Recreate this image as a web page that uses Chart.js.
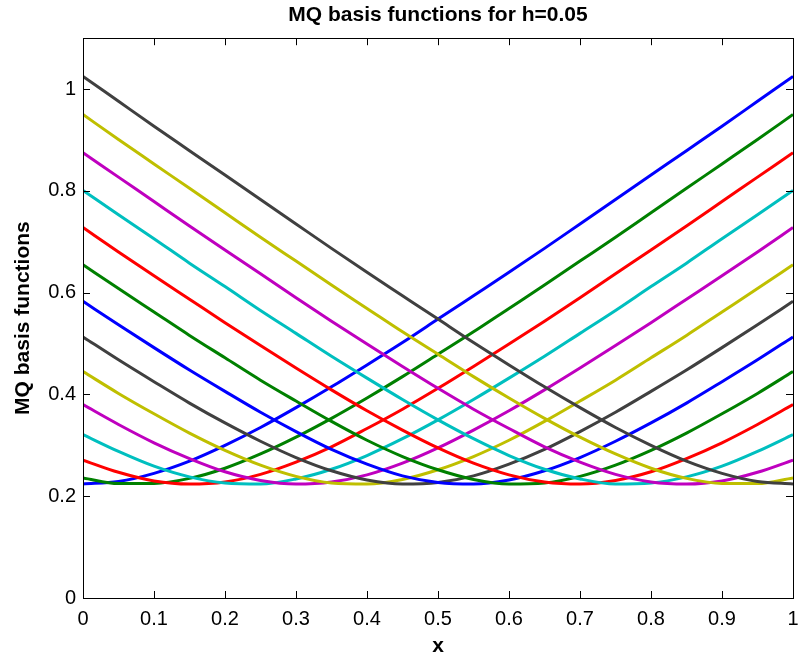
<!DOCTYPE html>
<html>
<head>
<meta charset="utf-8">
<script src="https://cdn.jsdelivr.net/npm/chart.js@4/dist/chart.umd.min.js"></script>
<style>
  body { margin: 0; background: #fff; }
  canvas { display: block; }
</style>
</head>
<body>
<canvas id="mq" width="799" height="662"></canvas>
<script>
// sample points along x
const xs = [0, 0.05, 0.1, 0.15, 0.2, 0.25, 0.3, 0.35, 0.4, 0.45, 0.5,
            0.55, 0.6, 0.65, 0.7, 0.75, 0.8, 0.85, 0.9, 0.95, 1];

// one curve per centre
const phi01 = [0.224,0.229,0.245,0.269,0.300,0.335,0.374,0.415,0.458,0.502,0.548,0.594,0.640,0.687,0.735,0.783,0.831,0.879,0.927,0.976,1.025];
const phi02 = [0.236,0.225,0.225,0.235,0.255,0.283,0.316,0.353,0.393,0.435,0.479,0.523,0.569,0.615,0.662,0.709,0.757,0.805,0.853,0.901,0.950];
const phi03 = [0.271,0.247,0.230,0.224,0.228,0.243,0.267,0.297,0.333,0.371,0.412,0.455,0.499,0.544,0.590,0.637,0.684,0.731,0.779,0.827,0.875];
const phi04 = [0.321,0.288,0.259,0.238,0.226,0.224,0.234,0.253,0.280,0.313,0.350,0.390,0.432,0.475,0.520,0.565,0.612,0.658,0.706,0.753,0.801];
const phi05 = [0.380,0.341,0.305,0.274,0.248,0.231,0.224,0.228,0.242,0.265,0.295,0.330,0.368,0.409,0.452,0.496,0.541,0.587,0.633,0.680,0.728];
const phi06 = [0.445,0.402,0.362,0.324,0.290,0.261,0.239,0.226,0.224,0.233,0.252,0.278,0.310,0.347,0.387,0.428,0.472,0.516,0.562,0.608,0.655];
const phi07 = [0.513,0.468,0.425,0.383,0.344,0.308,0.276,0.250,0.232,0.224,0.227,0.240,0.263,0.292,0.327,0.365,0.406,0.448,0.492,0.537,0.583];
const phi08 = [0.583,0.537,0.492,0.448,0.406,0.365,0.327,0.292,0.263,0.240,0.227,0.224,0.232,0.250,0.276,0.308,0.344,0.383,0.425,0.468,0.513];
const phi09 = [0.655,0.608,0.562,0.516,0.472,0.428,0.387,0.347,0.310,0.278,0.252,0.233,0.224,0.226,0.239,0.261,0.290,0.324,0.362,0.402,0.445];
const phi10 = [0.728,0.680,0.633,0.587,0.541,0.496,0.452,0.409,0.368,0.330,0.295,0.265,0.242,0.228,0.224,0.231,0.248,0.274,0.305,0.341,0.380];
const phi11 = [0.801,0.753,0.706,0.658,0.612,0.565,0.520,0.475,0.432,0.390,0.350,0.313,0.280,0.253,0.234,0.224,0.226,0.238,0.259,0.288,0.321];
const phi12 = [0.875,0.827,0.779,0.731,0.684,0.637,0.590,0.544,0.499,0.455,0.412,0.371,0.333,0.297,0.267,0.243,0.228,0.224,0.230,0.247,0.271];
const phi13 = [0.950,0.901,0.853,0.805,0.757,0.709,0.662,0.615,0.569,0.523,0.479,0.435,0.393,0.353,0.316,0.283,0.255,0.235,0.225,0.225,0.236];
const phi14 = [1.025,0.976,0.927,0.879,0.831,0.783,0.735,0.687,0.640,0.594,0.548,0.502,0.458,0.415,0.374,0.335,0.300,0.269,0.245,0.229,0.224];

// matlab colour order
const lineColors = ['#0000ff', '#008000', '#ff0000', '#00bfbf', '#bf00bf', '#bfbf00', '#404040'];

const xTicks = [0, 0.1, 0.2, 0.3, 0.4, 0.5, 0.6, 0.7, 0.8, 0.9, 1];
const yTicks = [0, 0.2, 0.4, 0.6, 0.8, 1];

const curves = [phi01, phi02, phi03, phi04, phi05, phi06, phi07,
                phi08, phi09, phi10, phi11, phi12, phi13, phi14];

const datasets = curves.map((ys, i) => ({
    data: ys.map((y, k) => ({ x: xs[k], y: y })),
    borderColor: lineColors[i % lineColors.length],
    borderWidth: 3,
    pointRadius: 0,
    fill: false,
    cubicInterpolationMode: 'monotone',
    order: curves.length - i   // later lines on top, like matlab
}));

// box round the axes with inward ticks on all four sides
const boxPlugin = {
    id: 'box',
    afterDraw(chart) {
        const ctx = chart.ctx;
        const a = chart.chartArea;
        const sx = chart.scales.x, sy = chart.scales.y;
        const tl = 7;
        ctx.save();
        ctx.strokeStyle = '#000';
        ctx.lineWidth = 1;
        ctx.strokeRect(Math.round(a.left) + 0.5, Math.round(a.top) + 0.5,
                       Math.round(a.right - a.left), Math.round(a.bottom - a.top));
        ctx.beginPath();
        xTicks.forEach(v => {
            const px = Math.round(sx.getPixelForValue(v)) + 0.5;
            ctx.moveTo(px, a.bottom); ctx.lineTo(px, a.bottom - tl);
            ctx.moveTo(px, a.top); ctx.lineTo(px, a.top + tl);
        });
        yTicks.forEach(v => {
            const py = Math.round(sy.getPixelForValue(v)) + 0.5;
            ctx.moveTo(a.left, py); ctx.lineTo(a.left + tl, py);
            ctx.moveTo(a.right, py); ctx.lineTo(a.right - tl, py);
        });
        ctx.stroke();
        ctx.restore();
    }
};

const FONT = '"Liberation Sans", Arial, Helvetica, sans-serif';

new Chart(document.getElementById('mq'), {
    type: 'line',
    data: { datasets: datasets },
    options: {
        responsive: false,
        animation: false,
        layout: { padding: { top: 0, right: 6, left: 0, bottom: 0 } },
        plugins: {
            legend: { display: false },
            tooltip: { enabled: false },
            title: {
                display: true,
                fullSize: false,
                text: 'MQ basis functions for h=0.05',
                color: '#000',
                font: { family: FONT, size: 21, weight: 'bold' },
                padding: { top: 3, bottom: 10 }
            }
        },
        scales: {
            x: {
                type: 'linear',
                min: 0, max: 1,
                grid: { display: false, drawTicks: false },
                border: { display: false },
                afterBuildTicks: s => { s.ticks = xTicks.map(v => ({ value: v })); },
                ticks: {
                    color: '#000',
                    font: { family: FONT, size: 20 },
                    padding: 9,
                    maxRotation: 0,
                    callback: v => String(v)
                },
                title: {
                    display: true,
                    text: 'x',
                    color: '#000',
                    font: { family: FONT, size: 21, weight: 'bold' },
                    padding: { top: 0, bottom: 3 }
                },
                afterFit: s => { s.height = 64; s.paddingLeft = 0; s.paddingRight = 0; }
            },
            y: {
                min: 0, max: 1.1,
                grid: { display: false, drawTicks: false },
                border: { display: false },
                afterBuildTicks: s => { s.ticks = yTicks.map(v => ({ value: v })); },
                ticks: {
                    color: '#000',
                    font: { family: FONT, size: 20 },
                    padding: 7,
                    callback: v => String(v)
                },
                title: {
                    display: true,
                    text: 'MQ basis functions',
                    color: '#000',
                    font: { family: FONT, size: 21, weight: 'bold' },
                    padding: { top: 11, bottom: 0 }
                },
                afterFit: s => { s.width = 83; s.paddingTop = 0; s.paddingBottom = 0; }
            }
        }
    },
    plugins: [boxPlugin]
});
</script>
</body>
</html>
